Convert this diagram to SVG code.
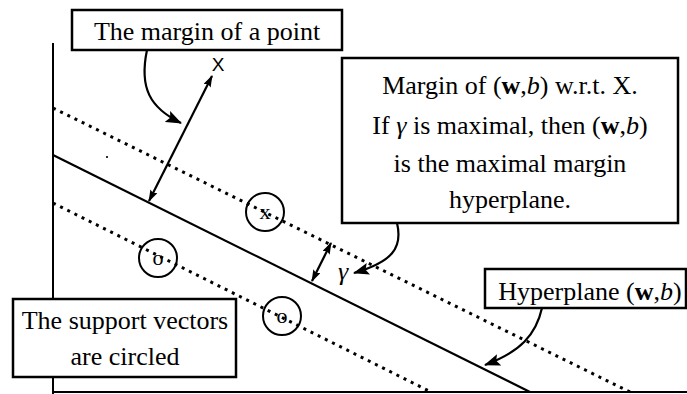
<svg xmlns="http://www.w3.org/2000/svg" width="687" height="394" viewBox="0 0 687 394" font-family="Liberation Serif, serif">
<style>
.t{font-family:'Liberation Serif', serif;font-size:26px;fill:#000}
.box{fill:#fff;stroke:#000;stroke-width:2.5}
.ax{stroke:#000;stroke-width:2;fill:none}
.solid{stroke:#000;stroke-width:2.2;fill:none}
.dot{stroke:#000;stroke-width:3;fill:none;stroke-dasharray:3 5}
.circ{stroke:#000;stroke-width:2;fill:none}
.arr{stroke:#000;stroke-width:2.2;fill:none}
</style>
<defs>
<marker id="big" viewBox="0 0 16 12" refX="15" refY="6" markerWidth="16" markerHeight="12" markerUnits="userSpaceOnUse" orient="auto">
<path d="M0,0 L16,6 L0,12 L3,6 Z" fill="#000"/>
</marker>
<marker id="sm" viewBox="0 0 12 8" refX="11" refY="4" markerWidth="12" markerHeight="8" markerUnits="userSpaceOnUse" orient="auto-start-reverse">
<path d="M0,0 L12,4 L0,8 L2,4 Z" fill="#000"/>
</marker>
</defs>
<rect width="687" height="394" fill="#fff"/>
<g id="axes">
<line class="ax" x1="53" y1="43" x2="53" y2="394"/>
<line class="ax" x1="53" y1="392" x2="687" y2="392"/>
</g>
<g id="lines">
<line class="dot" x1="53" y1="108" x2="630" y2="392"/>
<line class="solid" x1="53" y1="155" x2="530" y2="392"/>
<line class="dot" x1="53" y1="203" x2="431" y2="392"/>
<circle cx="107" cy="157" r="1.1" fill="#000"/>
</g>
<g id="points">
<circle class="circ" cx="265" cy="212" r="19"/>
<text class="t" x="265" y="219" text-anchor="middle" style="font-size:22px">x</text>
<circle class="circ" cx="158" cy="258" r="19"/>
<text class="t" x="158" y="265" text-anchor="middle" style="font-size:22px">o</text>
<circle class="circ" cx="282" cy="316" r="19"/>
<text class="t" x="282" y="323" text-anchor="middle" style="font-size:22px">o</text>
<text x="218" y="71" text-anchor="middle" font-family="Liberation Sans, sans-serif" font-size="19">X</text>
<text class="t" x="338" y="280" font-style="italic">γ</text>
</g>
<g id="connectors">
<line class="arr" x1="149" y1="201" x2="212" y2="76" marker-start="url(#sm)" marker-end="url(#sm)"/>
<line class="arr" x1="312" y1="281" x2="331" y2="243" marker-start="url(#sm)" marker-end="url(#sm)"/>
<path class="arr" d="M147,50 C139,88 150,108 181,123" marker-end="url(#big)"/>
<path class="arr" d="M397,223 C403,248 392,262 354,273" marker-end="url(#big)"/>
<path class="arr" d="M542,308 C536,335 520,352 485,365" marker-end="url(#big)"/>
</g>
<g id="box-margin-point">
<rect class="box" x="72" y="10" width="270" height="40"/>
<text class="t" x="207" y="40" text-anchor="middle">The margin of a point</text>
</g>
<g id="box-margin-wb">
<rect class="box" x="342" y="58" width="336" height="165"/>
<text class="t" x="510" y="94" text-anchor="middle">Margin of (<tspan font-weight="bold">w</tspan>,<tspan font-style="italic">b</tspan>) w.r.t. X.</text>
<text class="t" x="510" y="134" text-anchor="middle">If <tspan font-style="italic">γ</tspan> is maximal, then (<tspan font-weight="bold">w</tspan>,<tspan font-style="italic">b</tspan>)</text>
<text class="t" x="510" y="172" text-anchor="middle">is the maximal margin</text>
<text class="t" x="510" y="208" text-anchor="middle">hyperplane.</text>
</g>
<g id="box-hyperplane">
<rect class="box" x="485" y="269" width="201" height="39"/>
<text class="t" x="590" y="300" text-anchor="middle">Hyperplane (<tspan font-weight="bold">w</tspan>,<tspan font-style="italic">b</tspan>)</text>
</g>
<g id="box-support">
<rect class="box" x="13" y="299" width="223" height="78"/>
<text class="t" x="125" y="329" text-anchor="middle">The support vectors</text>
<text class="t" x="125" y="365" text-anchor="middle">are circled</text>
</g>
</svg>
